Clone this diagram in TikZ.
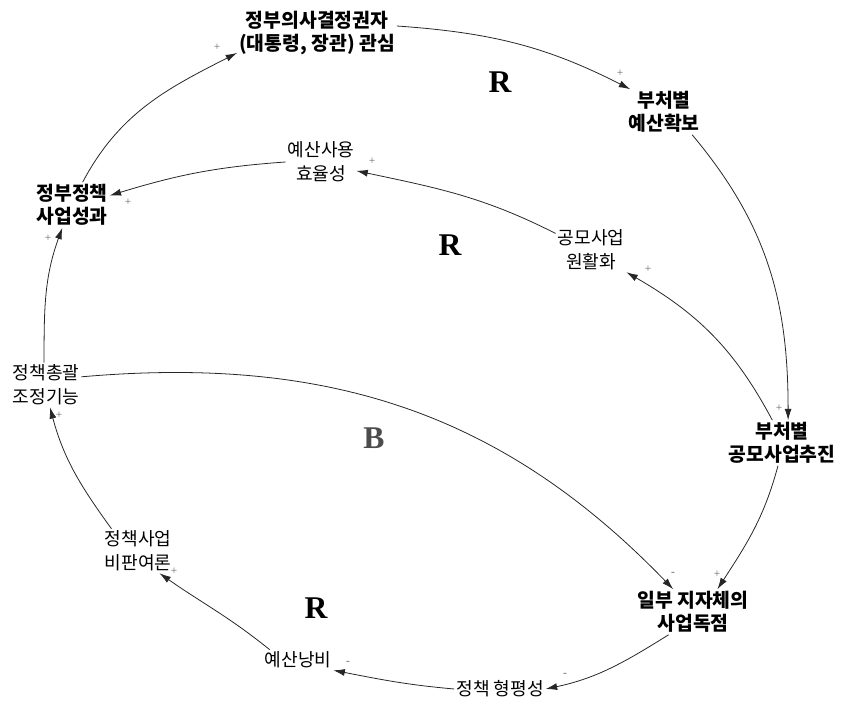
\documentclass[tikz,border=0pt]{standalone}
\usepackage{fontspec}
\setmainfont{Liberation Serif}
\newfontfamily\kofont{Noto Sans CJK KR}
\usetikzlibrary{arrows.meta}

\begin{document}
\begin{tikzpicture}[
  x=0.02cm, y=0.02cm,
  >={Latex[length=6.5pt, width=4pt]},
  link/.style={->, line width=0.45pt, black!85},
  var/.style={inner sep=1pt, align=center,
              font=\kofont\fontsize{10.3}{13.6}\selectfont},
  var-key/.style={var, font=\kofont\bfseries\fontsize{11}{13.2}\selectfont},
  pol/.style={inner sep=0pt, text=black!60, font=\fontsize{6.5}{6.5}\selectfont},
  loop-lbl/.style={font=\bfseries\fontsize{18}{18}\selectfont}
]
  \useasboundingbox (0,0) rectangle (842,702);

  % variables
  \node[var-key] (gov)    at (317,669) {정부의사결정권자\\(대통령, 장관) 관심};
  \node[var-key] (bud)    at (664,590) {부처별\\예산확보};
  \node[var]     (eff)    at (321,540) {예산사용\\효율성};
  \node[var-key] (perf)   at ( 72,497) {정부정책\\사업성과};
  \node[var]     (smooth) at (591,452) {공모사업\\원활화};
  \node[var]     (coord)  at ( 46,317) {정책총괄\\조정기능};
  \node[var-key] (push)   at (782,259) {부처별\\공모사업추진};
  \node[var]     (crit)   at (138,151) {정책사업\\비판여론};
  \node[var-key] (mono)   at (693, 90) {일부 지자체의\\사업독점};
  \node[var]     (waste)  at (298, 42) {예산낭비};
  \node[var]     (equity) at (500, 13) {정책 형평성};

  % loop markers
  \node[loop-lbl]                (r1) at (500,620) {R};
  \node[loop-lbl]                (r2) at (450,457) {R};
  \node[loop-lbl, text=black!70] (b1) at (374,264) {B};
  \node[loop-lbl]                (r3) at (316, 94) {R};

  % ===========================================================
  % outer loop
  % ===========================================================
  \draw[link] (gov.5)    to[out=-4, in=153]   (bud.146);
  \draw[link] (bud.-39)  to[out=-50, in=90]   (push.75);
  \draw[link] (push.113) to[out=118, in=-30]  (smooth.south east);
  \draw[link] (smooth.155) to[out=153, in=-12] (eff.-14);
  \draw[link] (eff.west) to[out=184, in=17]   (perf.14);
  \draw[link] (perf.65)  to[out=62, in=-153]  (gov.194);

  % ===========================================================
  % lower loop
  % ===========================================================
  \draw[link] (coord.95)  to[out=90, in=-110] (perf.-113);
  \draw[link] (coord.13)  to[out=5, in=134]   (mono.131);
  \draw[link] (push.-100) to[out=-105, in=57] (mono.43);
  \draw[link] (mono.-137) to[out=-148, in=12] (equity.east);
  \draw[link] (equity.west) to[out=175, in=-11] (waste.south east);
  \draw[link] (waste.160) to[out=141, in=-35] (crit.-46);
  \draw[link] (crit.140)  to[out=126, in=-75] (coord.-80);

  % polarity
  \node[pol] (s1)  at (620,629) {+};
  \node[pol] (s2)  at (217,655) {+};
  \node[pol] (s3)  at (372,541) {+};
  \node[pol] (s4)  at (128,500) {+};
  \node[pol] (s5)  at ( 48,464) {+};
  \node[pol] (s6)  at (648,433) {+};
  \node[pol] (s7)  at (779,294) {+};
  \node[pol] (s8)  at ( 59,287) {+};
  \node[pol] (s9)  at (673,128) {-};
  \node[pol] (s10) at (717,128) {+};
  \node[pol] (s11) at (174,131) {+};
  \node[pol] (s12) at (348, 39) {-};
  \node[pol] (s13) at (565, 27) {-};
\end{tikzpicture}
\end{document}
